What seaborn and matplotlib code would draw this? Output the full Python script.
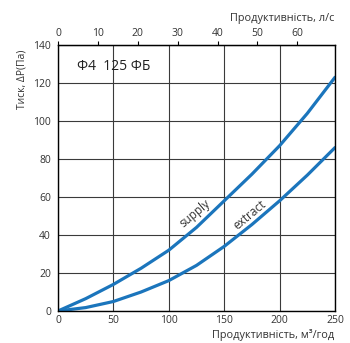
import matplotlib
matplotlib.use("Agg")
import matplotlib.pyplot as plt
import seaborn as sns
import pandas as pd

flow_m3h = [0, 25, 50, 75, 100, 125, 150, 175, 200, 225, 250]
supply_pa = [0, 6.5, 14, 22.5, 32, 44, 58, 72, 87, 104, 123]
extract_pa = [0, 1.8, 5, 10, 16, 24, 34, 45.5, 58, 71.5, 86]
x_ticks = [0, 50, 100, 150, 200, 250]
y_ticks = [0, 20, 40, 60, 80, 100, 120, 140]
top_ticks_ls = [0, 10, 20, 30, 40, 50, 60]

df = pd.DataFrame({
    "flow": flow_m3h * 2,
    "pa": supply_pa + extract_pa,
    "series": ["supply"] * len(flow_m3h) + ["extract"] * len(flow_m3h),
})

sns.set_style("white")
plt.rcParams['font.family'] = ['Open Sans', 'DejaVu Sans']

fig = plt.figure(figsize=(3.5, 3.43), dpi=100)
ax = fig.add_axes([58/350, 1-311/343, 277/350, 266/343])

blue = "#1b75bc"
sns.lineplot(data=df, x="flow", y="pa", hue="series", palette=[blue, blue],
             linewidth=2.3, legend=False, ax=ax)

ax.set_xlim(0, 250)
ax.set_ylim(0, 140)
ax.set_xticks(x_ticks)
ax.set_yticks(y_ticks)
ax.grid(True, color="#3a3a3a", linewidth=0.8)
for s in ax.spines.values():
    s.set_color("black")
    s.set_linewidth(1.0)
ax.tick_params(axis="x", length=0, labelsize=7.5, colors="#333333", pad=3)
ax.tick_params(axis="y", direction="inout", length=4, labelsize=7.5, colors="#333333", pad=3)
ax.tick_params(axis="y", color="black")
ax.set_xlabel("")
ax.set_ylabel("")

sec = ax.secondary_xaxis("top", functions=(lambda v: v / 3.6, lambda v: v * 3.6))
sec.set_xticks(top_ticks_ls)
sec.tick_params(axis="x", direction="out", length=3, labelsize=7.5, colors="#333333", pad=1)
sec.tick_params(axis="x", color="black")

ax.text(17, 128.6, "Ф4  125 ФБ", fontsize=10, color="#222222", va="center", ha="left")
ax.text(123.5, 51.5, "supply", fontsize=8.5, color="#333333", rotation=40,
        ha="center", va="center", rotation_mode="anchor")
ax.text(173.5, 50.3, "extract", fontsize=8.5, color="#333333", rotation=40,
        ha="center", va="center", rotation_mode="anchor")

fig.text(334/350, 1-19/343, "Продуктивність, л/с", fontsize=7.8, color="#333333",
         ha="right", va="center")
fig.text(334/350, 1-335/343, "Продуктивність, м³/год", fontsize=7.8, color="#333333",
         ha="right", va="center")
fig.text(22/350, 1-79/343, "Тиск, ΔP(Па)", fontsize=7.5, color="#333333",
         ha="center", va="center", rotation=90)

fig.savefig("out.png", dpi=100)
